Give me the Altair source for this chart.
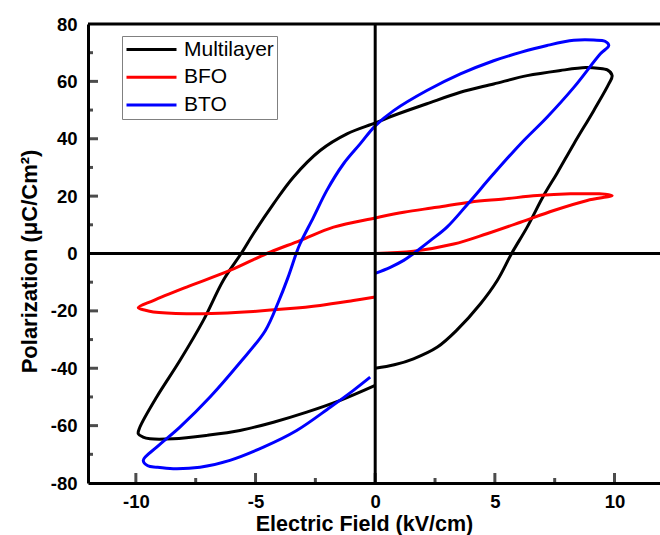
import altair as alt
import pandas as pd

# ---------------- data ----------------
series_names = ["Multilayer", "BFO", "BTO"]
series_colors = ["#000000", "#ff0000", "#0000ff"]

ml_e = [0.0, 0.8, 1.6, 2.6, 3.4, 4.4, 5.1, 5.7, 6.35, 7.04, 7.6, 8.3, 9.13, 9.76, 9.9,
        9.7, 9.3, 8.8, 7.74, 6.35, 4.95, 3.56, 2.16, 0.77, 0.0,
        -1.18, -2.3, -3.42, -4.25, -5.09, -5.6, -6.35, -7.18, -8.16, -9.13, -9.83, -9.9,
        -9.7, -9.41, -8.44, -7.04, -5.65, -4.25, -2.86, -1.46, 0.0]
ml_p = [-40.0, -38.8, -36.7, -32.6, -26.8, -17.5, -9.4, 0.0, 9.2, 20.2, 28.0, 38.2, 49.8, 59.1, 62.0,
        64.0, 64.6, 64.8, 63.8, 62.0, 59.1, 56.2, 52.2, 48.1, 45.5,
        41.7, 35.9, 26.6, 17.3, 6.9, 0.0, -9.4, -23.3, -37.3, -50.0, -60.5, -62.8,
        -64.0, -64.6, -64.6, -63.4, -61.7, -58.8, -55.3, -51.2, -46.0]

bfo_e = [0.0, 1.6, 3.28, 4.67, 6.07, 7.46, 8.86, 9.9,
         9.6, 9.27, 8.16, 6.77, 5.37, 3.97, 2.58, 1.19, 0.0,
         -1.74, -3.14, -4.53, -6.07, -7.88, -9.27, -9.9,
         -9.6, -9.27, -7.88, -6.49, -5.09, -3.69, -2.3, -0.91, 0.0]
bfo_p = [0.0, 0.8, 3.3, 6.9, 10.9, 15.0, 18.5, 20.2,
         20.7, 20.8, 20.8, 20.2, 19.0, 17.9, 16.1, 14.4, 12.4,
         9.2, 4.5, 0.0, -5.9, -11.7, -16.4, -18.9,
         -19.8, -20.4, -21.0, -20.8, -20.2, -19.3, -18.1, -16.4, -15.2]

bto_e = [0.0, 0.63, 1.19, 1.6, 2.3, 3.0, 3.84, 4.92, 6.07, 7.18, 8.3, 9.41, 9.76,
         9.6, 9.13, 8.3, 7.18, 6.07, 4.95, 3.56, 2.16, 0.77, 0.0,
         -0.63, -1.33, -2.02, -2.58, -3.14, -3.3, -3.65, -4.05, -4.6, -5.7, -6.9, -8.16, -9.13, -9.69,
         -9.5, -9.13, -8.44, -7.32, -6.07, -4.67, -3.28, -1.88, -0.91, -0.21]
bto_p = [-6.9, -4.8, -2.4, 0.0, 4.5, 9.2, 17.0, 27.5, 38.2, 47.5, 57.9, 69.6, 72.5,
         74.0, 74.4, 74.3, 72.5, 70.1, 67.2, 62.6, 56.8, 49.8, 44.5,
         38.2, 31.2, 22.0, 12.6, 3.4, 0.0, -8.5, -17.0, -27.0, -38.5, -50.0, -60.5, -67.5, -72.1,
         -74.0, -74.5, -75.0, -74.5, -72.1, -67.5, -61.7, -53.6, -47.7, -43.1]

x_major_ticks = [-10, -5, 0, 5, 10]
x_minor_ticks = [-7.5, -2.5, 2.5, 7.5]
y_major_ticks = [-60, -40, -20, 0, 20, 40, 60]
y_minor_ticks = [-70, -50, -30, -10, 10, 30, 50, 70]
y_label_values = [-80, -60, -40, -20, 0, 20, 40, 60, 80]
x_domain = [-12, 11.9]
y_domain = [-80, 80]

# ---------------- tables ----------------
rows = []
for name, xs_, ys_ in zip(series_names, [ml_e, bfo_e, bto_e], [ml_p, bfo_p, bto_p]):
    for i, (e, p) in enumerate(zip(xs_, ys_)):
        rows.append({"series": name, "E": e, "P": p, "order": i})
loops = pd.DataFrame(rows)

FONT = "Liberation Sans"
x_scale = alt.Scale(domain=x_domain, nice=False, zero=False)
y_scale = alt.Scale(domain=y_domain, nice=False, zero=False)

x_axis = alt.Axis(values=x_major_ticks, title="Electric Field (kV/cm)", ticks=False, tickSize=0,
                  labelPadding=9, grid=False, domainColor="black", domainWidth=3,
                  labelFont=FONT, labelFontSize=18.5, labelFontWeight="bold", labelColor="black",
                  labelExpr="'' + datum.value", labelFlush=False,
                  titleFont=FONT, titleFontSize=21.5, titleFontWeight="bold", titleColor="black",
                  titleX=276, titleY=47, titleBaseline="alphabetic")
y_axis = alt.Axis(values=y_label_values, title="Polarization (μC/Cm²)", ticks=False, tickSize=0,
                  labelPadding=11, grid=False, domainColor="black", domainWidth=3,
                  labelFont=FONT, labelFontSize=18.5, labelFontWeight="bold", labelColor="black",
                  labelExpr="'' + datum.value", labelFlush=False,
                  titleFont=FONT, titleFontSize=22, titleFontWeight="bold", titleColor="black",
                  titleX=-52, titleY=237, titleAngle=270, titleBaseline="alphabetic")

X = alt.X("E:Q", scale=x_scale, axis=x_axis)
Y = alt.Y("P:Q", scale=y_scale, axis=y_axis)

lines = alt.Chart(loops).mark_line(strokeWidth=3, interpolate="catmull-rom").encode(
    x=X, y=Y, order="order:Q",
    color=alt.Color("series:N",
                    scale=alt.Scale(domain=series_names, range=series_colors),
                    legend=alt.Legend(title=None, orient="none", legendX=34, legendY=12,
                                      symbolType="stroke", symbolSize=2500, symbolStrokeWidth=3,
                                      clipHeight=21, rowPadding=5.7,
                                      labelFont=FONT, labelFontSize=21, labelColor="black",
                                      labelOffset=6, padding=3,
                                      strokeColor="#808080", fillColor="white")),
)

vzero = alt.Chart(pd.DataFrame({"E": [0]})).mark_rule(color="black", strokeWidth=3).encode(x=X)
hzero = alt.Chart(pd.DataFrame({"P": [0]})).mark_rule(color="black", strokeWidth=3).encode(y=Y)
top_line = alt.Chart(pd.DataFrame({"P": [y_domain[1]]})).mark_rule(color="black", strokeWidth=3).encode(y=Y)

def yticks(vals, length):
    d = pd.DataFrame({"E": [x_domain[0]] * len(vals), "P": vals})
    return alt.Chart(d).mark_tick(orient="horizontal", size=length, thickness=3,
                                  xOffset=length / 2, color="black").encode(x=X, y=Y)

def xticks(vals, length):
    d = pd.DataFrame({"E": vals, "P": [y_domain[0]] * len(vals)})
    return alt.Chart(d).mark_tick(orient="vertical", size=length, thickness=3,
                                  yOffset=-length / 2, color="black").encode(x=X, y=Y)

chart = alt.layer(
    lines, vzero, hzero, top_line,
    yticks(y_major_ticks, 10), yticks(y_minor_ticks, 5),
    xticks(x_major_ticks, 10), xticks(x_minor_ticks, 5),
).properties(
    width=572, height=459,
    autosize=alt.AutoSizeParams(type="none"),
    padding={"left": 88, "top": 24, "right": 0, "bottom": 52},
    background="white",
).configure_view(stroke=None)

chart.save("out.html", embed_options={"renderer": "svg", "actions": False})
